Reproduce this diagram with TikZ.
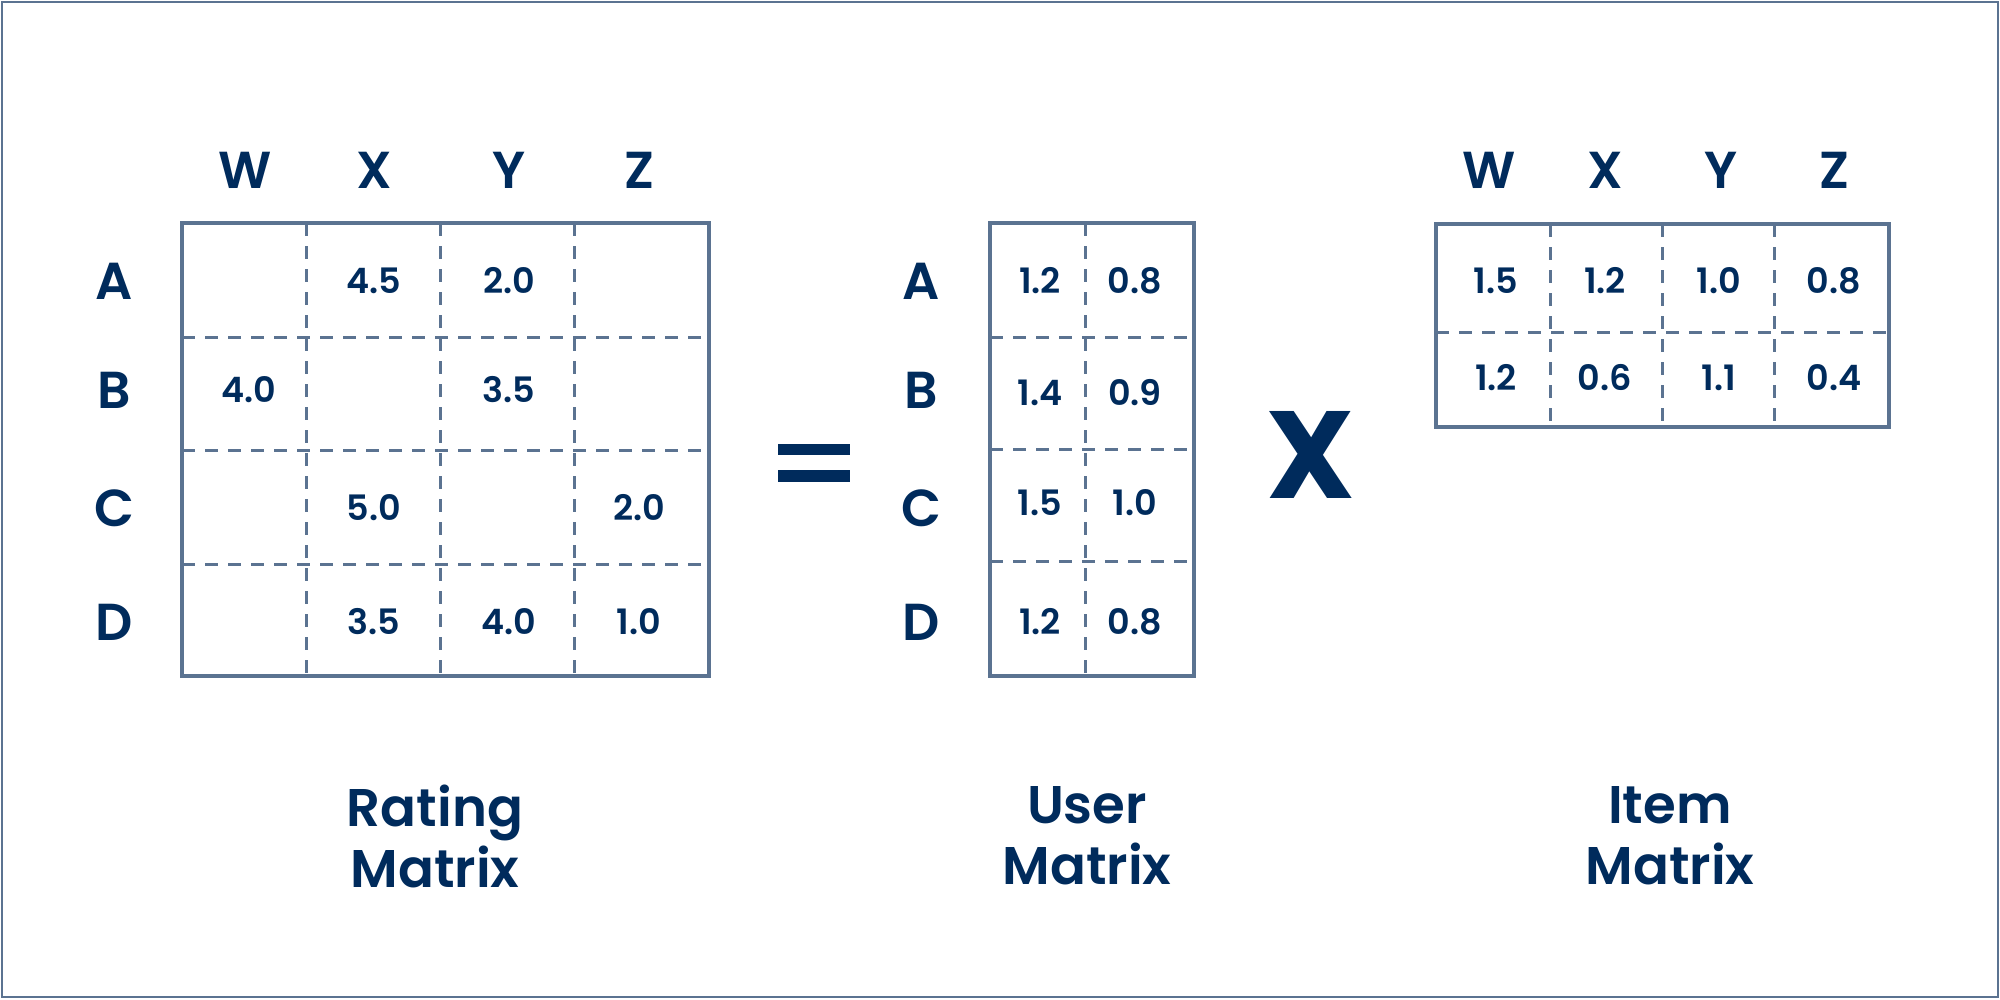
\documentclass[tikz,border=0pt]{standalone}
\usepackage{fontspec}
\setmainfont{Poppins}[UprightFont=* SemiBold, BoldFont=* Bold]
\definecolor{navy}{HTML}{002B5C}
\definecolor{gridblue}{HTML}{5B7391}
\tikzset{
  hdr/.style={text=navy, font=\fontsize{26}{26}\selectfont, inner sep=0pt},
  val/.style={text=navy, font=\fontsize{17.5}{17.5}\selectfont, inner sep=0pt},
  ttl/.style={text=navy, font=\fontsize{26.5}{30.5}\selectfont, align=center, inner sep=0pt},
  frame/.style={draw=gridblue, line width=2pt},
  cellline/.style={draw=gridblue, line width=1.5pt, dash pattern=on 6.5pt off 5pt},
}

\begin{document}
\begin{tikzpicture}[x=0.5pt,y=-0.5pt]
\useasboundingbox (0,0) rectangle (2000,1000);
\draw[draw=gridblue, line width=0.8pt] (2,2) rectangle (1998,997);

% rating matrix
\draw[cellline] (306,223) -- (306,676) (440,223) -- (440,676) (574,223) -- (574,676);
\draw[cellline] (182,337) -- (709,337) (182,450) -- (709,450) (182,564) -- (709,564);
\draw[frame] (182,223) rectangle (709,676);
\node[hdr] (rW) at (245,170) {W};
\node[hdr] (rX) at (374,170) {X};
\node[hdr] (rY) at (509,170) {Y};
\node[hdr] (rZ) at (639,170) {Z};
\node[hdr] (rA) at (114,281) {A};
\node[hdr] (rB) at (114,390) {B};
\node[hdr] (rC) at (114,508) {C};
\node[hdr] (rD) at (114,622) {D};
\node[val] (rAX) at (374,281) {4.5};
\node[val] (rAY) at (509,281) {2.0};
\node[val] (rBW) at (249,390) {4.0};
\node[val] (rBY) at (509,390) {3.5};
\node[val] (rCX) at (374,508) {5.0};
\node[val] (rCZ) at (639,508) {2.0};
\node[val] (rDX) at (374,622) {3.5};
\node[val] (rDY) at (509,622) {4.0};
\node[val] (rDZ) at (639,622) {1.0};

% equals
\fill[navy] (778,444) rectangle (850,455);
\fill[navy] (778,470) rectangle (850,482);

% user matrix
\draw[cellline] (1085,223) -- (1085,676);
\draw[cellline] (990,337) -- (1194,337) (990,449) -- (1194,449) (990,561) -- (1194,561);
\draw[frame] (990,223) rectangle (1194,676);
\node[hdr] (uA) at (921,281) {A};
\node[hdr] (uB) at (921,390) {B};
\node[hdr] (uC) at (921,508) {C};
\node[hdr] (uD) at (921,622) {D};
\node[val] (uA1) at (1040,281) {1.2};
\node[val] (uA2) at (1135,281) {0.8};
\node[val] (uB1) at (1040,393) {1.4};
\node[val] (uB2) at (1135,393) {0.9};
\node[val] (uC1) at (1040,503) {1.5};
\node[val] (uC2) at (1135,503) {1.0};
\node[val] (uD1) at (1040,622) {1.2};
\node[val] (uD2) at (1135,622) {0.8};

% times
\node[text=navy, font=\fontsize{62}{62}\selectfont\bfseries, inner sep=0pt] (times) at (1311,455) {X};

% item matrix
\draw[cellline] (1550,224) -- (1550,427) (1662,224) -- (1662,427) (1774,224) -- (1774,427);
\draw[cellline] (1436,332) -- (1889,332);
\draw[frame] (1436,224) rectangle (1889,427);
\node[hdr] (iW) at (1489,170) {W};
\node[hdr] (iX) at (1605,170) {X};
\node[hdr] (iY) at (1721,170) {Y};
\node[hdr] (iZ) at (1834,170) {Z};
\node[val] (iW1) at (1496,281) {1.5};
\node[val] (iX1) at (1605,281) {1.2};
\node[val] (iY1) at (1719,281) {1.0};
\node[val] (iZ1) at (1834,281) {0.8};
\node[val] (iW2) at (1496,378) {1.2};
\node[val] (iX2) at (1605,378) {0.6};
\node[val] (iY2) at (1719,378) {1.1};
\node[val] (iZ2) at (1834,378) {0.4};

% titles
\node[ttl] (rating) at (435,836) {Rating\\Matrix};
\node[ttl] (user) at (1087,836) {User\\Matrix};
\node[ttl] (item) at (1670,836) {Item\\Matrix};
\end{tikzpicture}
\end{document}
